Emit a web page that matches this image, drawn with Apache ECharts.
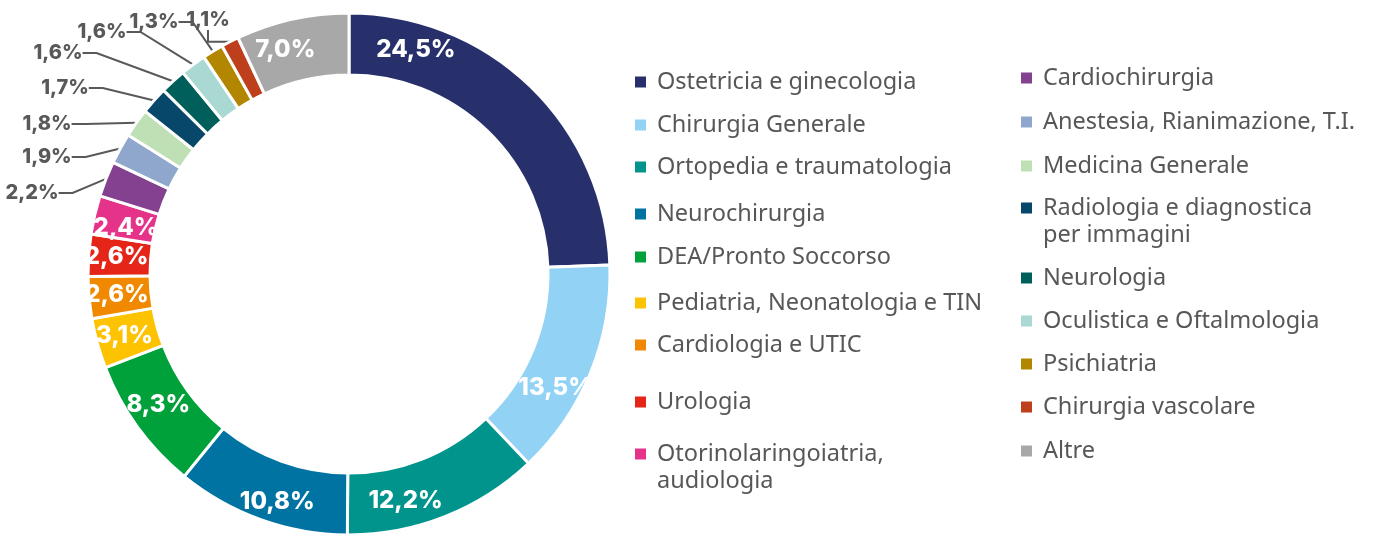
<!DOCTYPE html>
<html>
<head>
<meta charset="utf-8">
<script src="https://cdn.jsdelivr.net/npm/echarts@6/dist/echarts.min.js"></script>
<style>
  html, body { margin: 0; padding: 0; background: #fff; }
  #main { width: 1374px; height: 536px; }
</style>
</head>
<body>
<div id="main"></div>
<script>
// reparti, in senso orario dall'alto
var categories = [
	'Ostetricia e ginecologia', 'Chirurgia Generale', 'Ortopedia e traumatologia',
	'Neurochirurgia', 'DEA/Pronto Soccorso', 'Pediatria, Neonatologia e TIN',
	'Cardiologia e UTIC', 'Urologia', 'Otorinolaringoiatria,\naudiologia',
	'Cardiochirurgia', 'Anestesia, Rianimazione, T.I.', 'Medicina Generale',
	'Radiologia e diagnostica\nper immagini', 'Neurologia', 'Oculistica e Oftalmologia',
	'Psichiatria', 'Chirurgia vascolare', 'Altre'
];
var values = [24.5, 13.5, 12.2, 10.8, 8.3, 3.1, 2.6, 2.6, 2.4, 2.2, 1.9, 1.8, 1.7, 1.6, 1.6, 1.3, 1.1, 7.0];
var colors = [
	'#27306b', '#92d3f5', '#00948c', '#0073a3', '#00a13a', '#fdc300',
	'#f08800', '#e42518', '#e6338a', '#83418f', '#8fa7cc', '#bfdfb4',
	'#06476a', '#005f5a', '#a9d9d2', '#b38600', '#bd3f1c', '#a8a8a8'
];

var chart = echarts.init(document.getElementById('main'));

// centri dei quadratini della legenda (colonna sinistra / destra)
var legendLeft = [82, 125, 167, 214, 257, 303, 345, 402, 454];
var legendRight = [78, 122, 166, 208, 278, 321, 364, 407, 451];

var legends = [];
for (var i = 0; i < categories.length; i++) {
	var col = i < 9 ? 0 : 1;
	var cy = col == 0 ? legendLeft[i] : legendRight[i - 9];
	var twoLines = categories[i].indexOf('\n') >= 0;
	legends.push({
		data: [categories[i]],
		left: col == 0 ? 633 : 1019,
		top: twoLines ? cy - 40.5 : cy - 13.5,
		padding: 0,
		icon: 'rect',
		itemWidth: 13,
		itemHeight: 13,
		selectedMode: false,
		// riga vuota davanti: la prima riga resta allineata al quadratino
		formatter: function(name) {
			return name.indexOf('\n') >= 0 ? '\n' + name : name;
		},
		textStyle: {
			color: '#595656',
			fontFamily: 'Noto Sans',
			fontSize: 23.5,
			lineHeight: 27,
			padding: [0, 0, 0, 5]
		}
	});
}

// etichette esterne per le fette piccole
var outside = {
	position: 'outside',
	color: '#595959',
	fontSize: 20,
	fontWeight: 800
};

var data = [];
for (var i = 0; i < categories.length; i++) {
	var item = {
		name: categories[i],
		value: values[i],
		itemStyle: { color: colors[i] }
	};
	if (i >= 9 && i <= 16) {
		item.label = outside;
		item.labelLine = { show: true, length: 16, length2: 14, lineStyle: { color: '#595959', width: 2 } };
	}
	data.push(item);
}

// spostamenti delle etichette interne come nell'originale
var shift = { 0: [-95, -57], 1: [-9, 25], 2: [-29, 10], 3: [7, 9], 4: [-2, -6], 8: [4, 7], 17: [-13, 3] };
// posizione delle etichette esterne (centro del testo)
var outerPos = {
	9: [32, 193], 10: [47, 157], 11: [47, 124], 12: [65, 88],
	13: [58, 53], 14: [102, 32], 15: [154, 22], 16: [208, 20]
};

option = {
	animation: false,
	legend: legends,
	series: [{
		type: 'pie',
		center: [349, 274],
		radius: [199, 261],
		startAngle: 90,
		clockwise: true,
		minShowLabelAngle: 0,
		itemStyle: { borderColor: '#fff', borderWidth: 3 },
		label: {
			position: 'inside',
			color: '#fff',
			fontFamily: 'Inter',
			fontWeight: 800,
			fontSize: 24,
			formatter: function(p) {
				return p.value.toFixed(1).replace('.', ',') + '%';
			}
		},
		labelLayout: function(p) {
			var o = outerPos[p.dataIndex];
			if (o) return { x: o[0], y: o[1], align: 'center', verticalAlign: 'middle' };
			var s = shift[p.dataIndex];
			if (s) return { dx: s[0], dy: s[1] };
			return {};
		},
		data: data
	}]
};

chart.setOption(option);
</script>
</body>
</html>
